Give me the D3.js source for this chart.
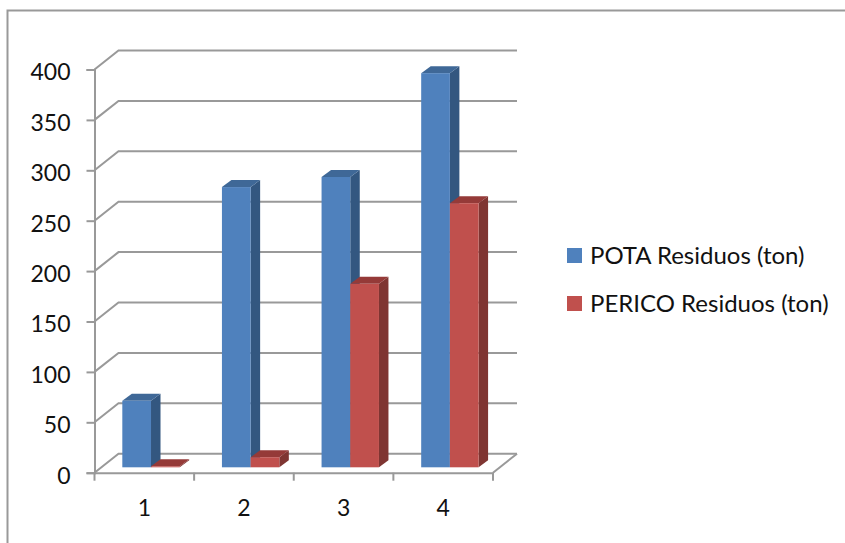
<!DOCTYPE html>
<html>
<head>
<meta charset="utf-8">
<script src="https://cdnjs.cloudflare.com/ajax/libs/d3/7.8.5/d3.min.js"></script>
<style>
html,body{margin:0;padding:0;background:#fff}
svg{display:block}
text{font-family:Lato,"Open Sans",sans-serif;fill:#111}
</style>
</head>
<body>
<svg id="chart" width="845" height="543"></svg>
<script>
const categories = ["1", "2", "3", "4"];
const seriesNames = ["POTA Residuos (ton)", "PERICO Residuos (ton)"];
const pota = [66, 278, 288, 391];
const perico = [1, 10, 182, 262];
const yTicks = [0, 50, 100, 150, 200, 250, 300, 350, 400];

const frontColors = ["#4f81bd", "#c0504d"];
const sideColors = ["#335780", "#7f3532"];
const topColors = ["#3f6897", "#953a38"];
const axisGrey = "#999999";

const svg = d3.select("#chart");
const x = d3.scaleBand().domain(categories).range([94.5, 493]);
const y = d3.scaleLinear().domain([0, 400]).range([472.7, 69.5]);
const inner = d3.scaleBand().domain([0, 1]).range([0, 57.4]);

// Oblique offsets: the back wall, and the bars' depth and floor position
const wall = {dx: 24, dy: -19};
const bar = {dx: 9.5, dy: -7, floorX: 6.7, floorY: -5.4};

// Chart frame
svg.append("path")
  .attr("d", "M7.5,543 V10.5 H845")
  .attr("fill", "none").attr("stroke", axisGrey).attr("stroke-width", 2);

// Gridlines on the back wall with their connectors to the side wall
const grid = svg.append("g").attr("fill", "none").attr("stroke", axisGrey).attr("stroke-width", 2);
yTicks.forEach(t => {
  grid.append("path").attr("d", d3.line()([
    [x.range()[0], y(t)],
    [x.range()[0] + wall.dx, y(t) + wall.dy],
    [x.range()[1] + wall.dx, y(t) + wall.dy]
  ]));
});
grid.append("path").attr("d", d3.line()([
  [x.range()[1], y(0)],
  [x.range()[1] + wall.dx, y(0) + wall.dy]
]));

// Value axis
const yAxis = d3.axisLeft(y).tickValues(yTicks).tickSize(8).tickPadding(16);
const yG = svg.append("g").attr("transform", `translate(${x.range()[0]},0)`).call(yAxis);
yG.selectAll("text").attr("y", 3);
// Category axis with ticks on the band boundaries
const xG = svg.append("g").attr("transform", `translate(0,${y(0)})`)
  .call(d3.axisBottom(x).tickSize(0).tickPadding(27));
const boundaries = [...categories.map(c => x(c)), x.range()[1]];
xG.selectAll(".bound").data(boundaries).enter().append("line").attr("class", "bound")
  .attr("x1", d => d).attr("x2", d => d).attr("y1", 0).attr("y2", 8);
[yG, xG].forEach(g => {
  g.selectAll("path,line").attr("stroke", axisGrey).attr("stroke-width", 2);
  g.selectAll("text").attr("font-size", 23).style("font-family", 'Lato,"Open Sans",sans-serif').attr("fill", "#111");
});

// Oblique bars, one series at a time
const groupLeft = c => x(c) + (x.bandwidth() - inner.range()[1]) / 2 + bar.floorX;
[pota, perico].forEach((values, s) => {
  const g = svg.append("g");
  values.forEach((v, i) => {
    const x0 = groupLeft(categories[i]) + inner(s);
    const x1 = x0 + inner.bandwidth();
    const yb = y(0) + bar.floorY;
    const yt = y(v) + bar.floorY;
    const poly = pts => d3.line()(pts) + "Z";
    g.append("path").attr("fill", sideColors[s]).attr("d", poly([
      [x1, yt], [x1 + bar.dx, yt + bar.dy], [x1 + bar.dx, yb + bar.dy], [x1, yb]
    ]));
    g.append("path").attr("fill", topColors[s]).attr("d", poly([
      [x0, yt], [x0 + bar.dx, yt + bar.dy], [x1 + bar.dx, yt + bar.dy], [x1, yt]
    ]));
    g.append("rect").attr("x", x0).attr("y", yt).attr("width", x1 - x0).attr("height", yb - yt)
      .attr("fill", frontColors[s]);
  });
});

// Legend
const legendY = d3.scalePoint().domain(seriesNames).range([255.5, 303.5]);
const legend = svg.append("g").selectAll("g").data(seriesNames).enter().append("g")
  .attr("transform", d => `translate(567,${legendY(d)})`);
legend.append("rect").attr("x", 0).attr("y", -7.5).attr("width", 15).attr("height", 15)
  .attr("fill", (d, i) => frontColors[i]);
legend.append("text").attr("x", 23).attr("y", 8).attr("font-size", 24).text(d => d);
</script>
</body>
</html>
